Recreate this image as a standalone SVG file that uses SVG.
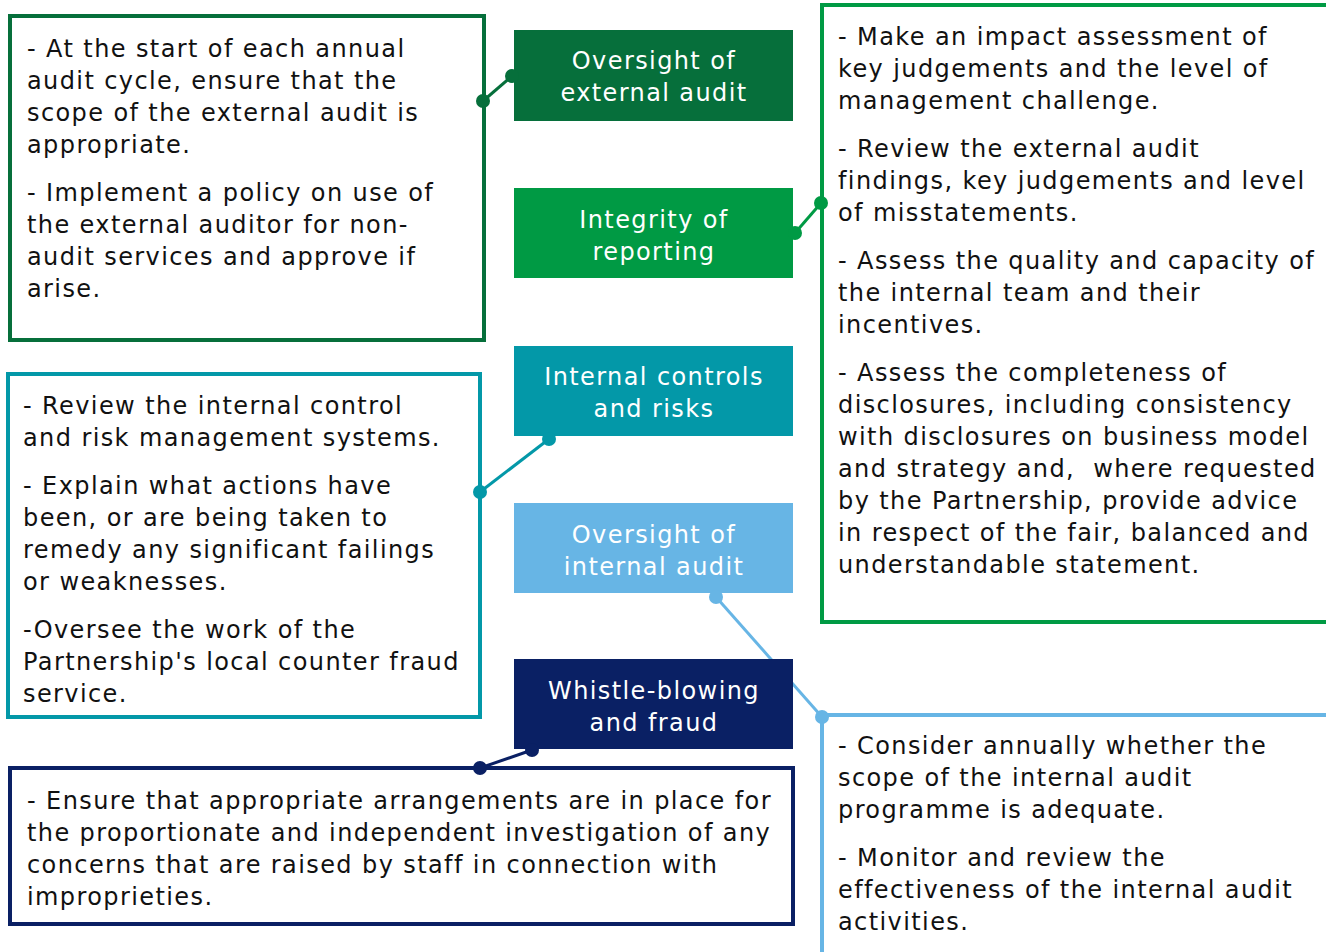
<svg xmlns="http://www.w3.org/2000/svg" width="1326" height="952" viewBox="0 0 1326 952">
<style>
.t{font-family:"DejaVu Sans","Liberation Sans",sans-serif;font-size:24px;letter-spacing:1.4px;fill:#111;white-space:pre}
.n{font-family:"DejaVu Sans","Liberation Sans",sans-serif;font-size:24px;letter-spacing:1.4px;fill:#fff;text-anchor:middle}
.box{fill:#fff;stroke-width:4}
</style>
<rect width="1326" height="952" fill="#fff"/>
<g id="connectors">
<g stroke="#066F3B" fill="#066F3B"><line x1="512" y1="76" x2="483" y2="101" stroke-width="3"/></g>
<g stroke="#009A44" fill="#009A44"><line x1="795" y1="233" x2="821" y2="203" stroke-width="3"/></g>
<g stroke="#0398A8" fill="#0398A8"><line x1="549" y1="439" x2="480" y2="492" stroke-width="3"/></g>
<g stroke="#67B5E5" fill="#67B5E5"><line x1="716" y1="597" x2="822" y2="717" stroke-width="3"/></g>
<g stroke="#0A2064" fill="#0A2064"><line x1="532" y1="750" x2="480" y2="768" stroke-width="3"/></g>
</g>
<g id="box-external">
<rect class="box" x="10" y="16" width="474" height="324" stroke="#066F3B"/>
<text class="t" x="27" y="57">- At the start of each annual</text>
<text class="t" x="27" y="89">audit cycle, ensure that the</text>
<text class="t" x="27" y="121">scope of the external audit is</text>
<text class="t" x="27" y="153">appropriate.</text>
<text class="t" x="27" y="201">- Implement a policy on use of</text>
<text class="t" x="27" y="233">the external auditor for non-</text>
<text class="t" x="27" y="265">audit services and approve if</text>
<text class="t" x="27" y="297">arise.</text>
</g>
<g id="box-integrity">
<rect class="box" x="822" y="5" width="510" height="617" stroke="#009A44"/>
<text class="t" x="838" y="45">- Make an impact assessment of</text>
<text class="t" x="838" y="77">key judgements and the level of</text>
<text class="t" x="838" y="109">management challenge.</text>
<text class="t" x="838" y="157">- Review the external audit</text>
<text class="t" x="838" y="189">findings, key judgements and level</text>
<text class="t" x="838" y="221">of misstatements.</text>
<text class="t" x="838" y="269">- Assess the quality and capacity of</text>
<text class="t" x="838" y="301">the internal team and their</text>
<text class="t" x="838" y="333">incentives.</text>
<text class="t" x="838" y="381">- Assess the completeness of</text>
<text class="t" x="838" y="413">disclosures, including consistency</text>
<text class="t" x="838" y="445">with disclosures on business model</text>
<text class="t" x="838" y="477">and strategy and,  where requested</text>
<text class="t" x="838" y="509">by the Partnership, provide advice</text>
<text class="t" x="838" y="541">in respect of the fair, balanced and</text>
<text class="t" x="838" y="573">understandable statement.</text>
</g>
<g id="box-controls">
<rect class="box" x="8" y="374" width="472" height="343" stroke="#0398A8"/>
<text class="t" x="23" y="414">- Review the internal control</text>
<text class="t" x="23" y="446">and risk management systems.</text>
<text class="t" x="23" y="494">- Explain what actions have</text>
<text class="t" x="23" y="526">been, or are being taken to</text>
<text class="t" x="23" y="558">remedy any significant failings</text>
<text class="t" x="23" y="590">or weaknesses.</text>
<text class="t" x="23" y="638">-Oversee the work of the</text>
<text class="t" x="23" y="670">Partnership's local counter fraud</text>
<text class="t" x="23" y="702">service.</text>
</g>
<g id="box-internal-audit">
<rect class="box" x="822" y="715" width="510" height="250" stroke="#67B5E5"/>
<text class="t" x="838" y="754">- Consider annually whether the</text>
<text class="t" x="838" y="786">scope of the internal audit</text>
<text class="t" x="838" y="818">programme is adequate.</text>
<text class="t" x="838" y="866">- Monitor and review the</text>
<text class="t" x="838" y="898">effectiveness of the internal audit</text>
<text class="t" x="838" y="930">activities.</text>
</g>
<g id="box-whistle">
<rect class="box" x="10" y="768" width="783" height="156" stroke="#0A2064"/>
<text class="t" x="27" y="809">- Ensure that appropriate arrangements are in place for</text>
<text class="t" x="27" y="841">the proportionate and independent investigation of any</text>
<text class="t" x="27" y="873">concerns that are raised by staff in connection with</text>
<text class="t" x="27" y="905">improprieties.</text>
</g>
<g id="node-external">
<rect x="514" y="30" width="279" height="91" fill="#066F3B"/>
<text class="n" x="654" y="69">Oversight of</text>
<text class="n" x="654" y="101">external audit</text>
</g>
<g id="node-integrity">
<rect x="514" y="188" width="279" height="90" fill="#009A44"/>
<text class="n" x="654" y="228">Integrity of</text>
<text class="n" x="654" y="260">reporting</text>
</g>
<g id="node-controls">
<rect x="514" y="346" width="279" height="90" fill="#0398A8"/>
<text class="n" x="654" y="385">Internal controls</text>
<text class="n" x="654" y="417">and risks</text>
</g>
<g id="node-internal-audit">
<rect x="514" y="503" width="279" height="90" fill="#67B5E5"/>
<text class="n" x="654" y="543">Oversight of</text>
<text class="n" x="654" y="575">internal audit</text>
</g>
<g id="node-whistle">
<rect x="514" y="659" width="279" height="90" fill="#0A2064"/>
<text class="n" x="654" y="699">Whistle-blowing</text>
<text class="n" x="654" y="731">and fraud</text>
</g>
<g id="dots">
<circle cx="512" cy="76" r="7" fill="#066F3B"/>
<circle cx="483" cy="101" r="7" fill="#066F3B"/>
<circle cx="795" cy="233" r="7" fill="#009A44"/>
<circle cx="821" cy="203" r="7" fill="#009A44"/>
<circle cx="549" cy="439" r="7" fill="#0398A8"/>
<circle cx="480" cy="492" r="7" fill="#0398A8"/>
<circle cx="716" cy="597" r="7" fill="#67B5E5"/>
<circle cx="822" cy="717" r="7" fill="#67B5E5"/>
<circle cx="532" cy="750" r="7" fill="#0A2064"/>
<circle cx="480" cy="768" r="7" fill="#0A2064"/>
</g>
</svg>
